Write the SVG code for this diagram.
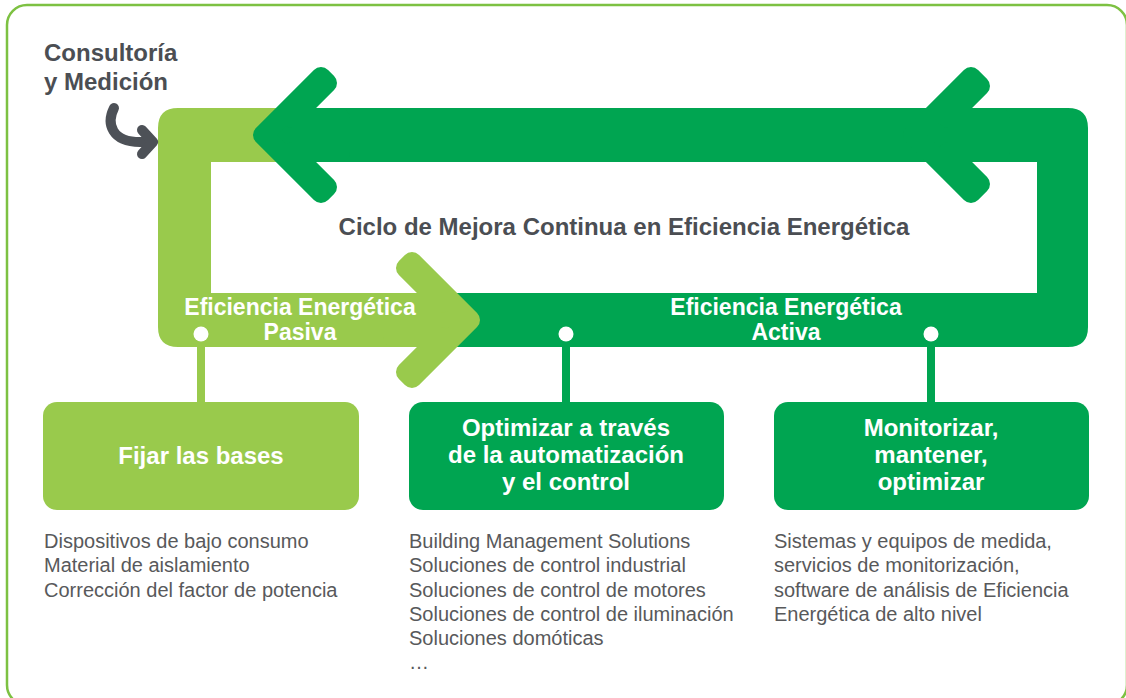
<svg xmlns="http://www.w3.org/2000/svg" width="1126" height="698" viewBox="0 0 1126 698">
  <style>
    .dark { fill: #00a551; }
    .light { fill: #99ca4c; }
    .chev-dark { fill: #00a551; stroke: #00a551; stroke-width: 20; stroke-linejoin: round; }
    .chev-light { fill: #99ca4c; stroke: #99ca4c; stroke-width: 20; stroke-linejoin: round; }
    .head { font-family: "Liberation Sans", Arial, sans-serif; font-weight: bold; font-size: 24px; fill: #4b4e53; }
    .band { font-family: "Liberation Sans", Arial, sans-serif; font-weight: bold; font-size: 23px; fill: #ffffff; text-anchor: middle; }
    .box-t { font-family: "Liberation Sans", Arial, sans-serif; font-weight: bold; font-size: 24px; fill: #ffffff; text-anchor: middle; }
    .body { font-family: "Liberation Sans", Arial, sans-serif; font-size: 20px; fill: #58595b; }
    .stem-l { stroke: #99ca4c; stroke-width: 8; }
    .stem-d { stroke: #00a551; stroke-width: 8; }
    .dot { fill: #ffffff; }
  </style>

  <rect x="7" y="5" width="1120" height="700" rx="20" ry="20" fill="#ffffff" stroke="#7dc142" stroke-width="2.5"/>

  <g id="cycle">
    <path class="dark" d="M330,108 L1068,108 Q1088,108 1088,128 L1088,327 Q1088,347 1068,347 L420,347 L420,293 L1037,293 L1037,162 L330,162 Z"/>
    <path class="light" d="M300,108 L178,108 Q158,108 158,128 L158,327 Q158,347 178,347 L420,347 L420,293 L211,293 L211,162 L300,162 Z"/>
    <polygon class="chev-light" points="470,320 412,262 406,268 441,303 393,303 393,337 441,337 406,372 412,378"/>
    <polygon class="chev-dark" points="263,135 321,77 327,83 292,118 340,118 340,152 292,152 327,187 321,193"/>
    <polygon class="chev-dark" points="913,135 971,77 980,86 948,118 1000,118 1000,152 948,152 980,184 971,193"/>
  </g>

  <g id="title">
    <text class="head" x="624" y="235" text-anchor="middle">Ciclo de Mejora Continua en Eficiencia Energética</text>
  </g>

  <g id="consultoria">
    <text class="head" x="44" y="61">Consultoría</text>
    <text class="head" x="44" y="90">y Medición</text>
  </g>

  <g id="label-pasiva">
    <text class="band" x="300" y="315">Eficiencia Energética</text>
    <text class="band" x="300" y="340">Pasiva</text>
  </g>

  <g id="label-activa">
    <text class="band" x="786" y="315">Eficiencia Energética</text>
    <text class="band" x="786" y="340">Activa</text>
  </g>

  <g id="connectors">
    <path d="M114,108 C106,124 112,142 140,142 L148,142" fill="none" stroke="#4d5157" stroke-width="10" stroke-linecap="round"/>
    <polyline points="142,130 153,142 142,154" fill="none" stroke="#4d5157" stroke-width="10" stroke-linecap="round" stroke-linejoin="round"/>
    <line class="stem-l" x1="201" y1="336" x2="201" y2="404"/>
    <line class="stem-d" x1="566" y1="336" x2="566" y2="404"/>
    <line class="stem-d" x1="931" y1="336" x2="931" y2="404"/>
    <circle class="dot" cx="201" cy="334" r="7.5"/>
    <circle class="dot" cx="566" cy="334" r="7.5"/>
    <circle class="dot" cx="931" cy="334" r="7.5"/>
  </g>

  <g id="node-fijar">
    <rect class="light" x="43" y="402" width="316" height="108" rx="14" ry="14"/>
    <text class="box-t" x="201" y="464">Fijar las bases</text>
    <text class="body" x="44" y="548">Dispositivos de bajo consumo</text>
    <text class="body" x="44" y="572">Material de aislamiento</text>
    <text class="body" x="44" y="597">Corrección del factor de potencia</text>
  </g>

  <g id="node-optimizar">
    <rect class="dark" x="409" y="402" width="315" height="108" rx="14" ry="14"/>
    <text class="box-t" x="566" y="436">Optimizar a través</text>
    <text class="box-t" x="566" y="463">de la automatización</text>
    <text class="box-t" x="566" y="490">y el control</text>
    <text class="body" x="409" y="548">Building Management Solutions</text>
    <text class="body" x="409" y="572">Soluciones de control industrial</text>
    <text class="body" x="409" y="597">Soluciones de control de motores</text>
    <text class="body" x="409" y="621">Soluciones de control de iluminación</text>
    <text class="body" x="409" y="645">Soluciones domóticas</text>
    <text class="body" x="409" y="669">…</text>
  </g>

  <g id="node-monitorizar">
    <rect class="dark" x="774" y="402" width="315" height="108" rx="14" ry="14"/>
    <text class="box-t" x="931" y="436">Monitorizar,</text>
    <text class="box-t" x="931" y="463">mantener,</text>
    <text class="box-t" x="931" y="490">optimizar</text>
    <text class="body" x="774" y="548">Sistemas y equipos de medida,</text>
    <text class="body" x="774" y="572">servicios de monitorización,</text>
    <text class="body" x="774" y="597">software de análisis de Eficiencia</text>
    <text class="body" x="774" y="621">Energética de alto nivel</text>
  </g>
</svg>
